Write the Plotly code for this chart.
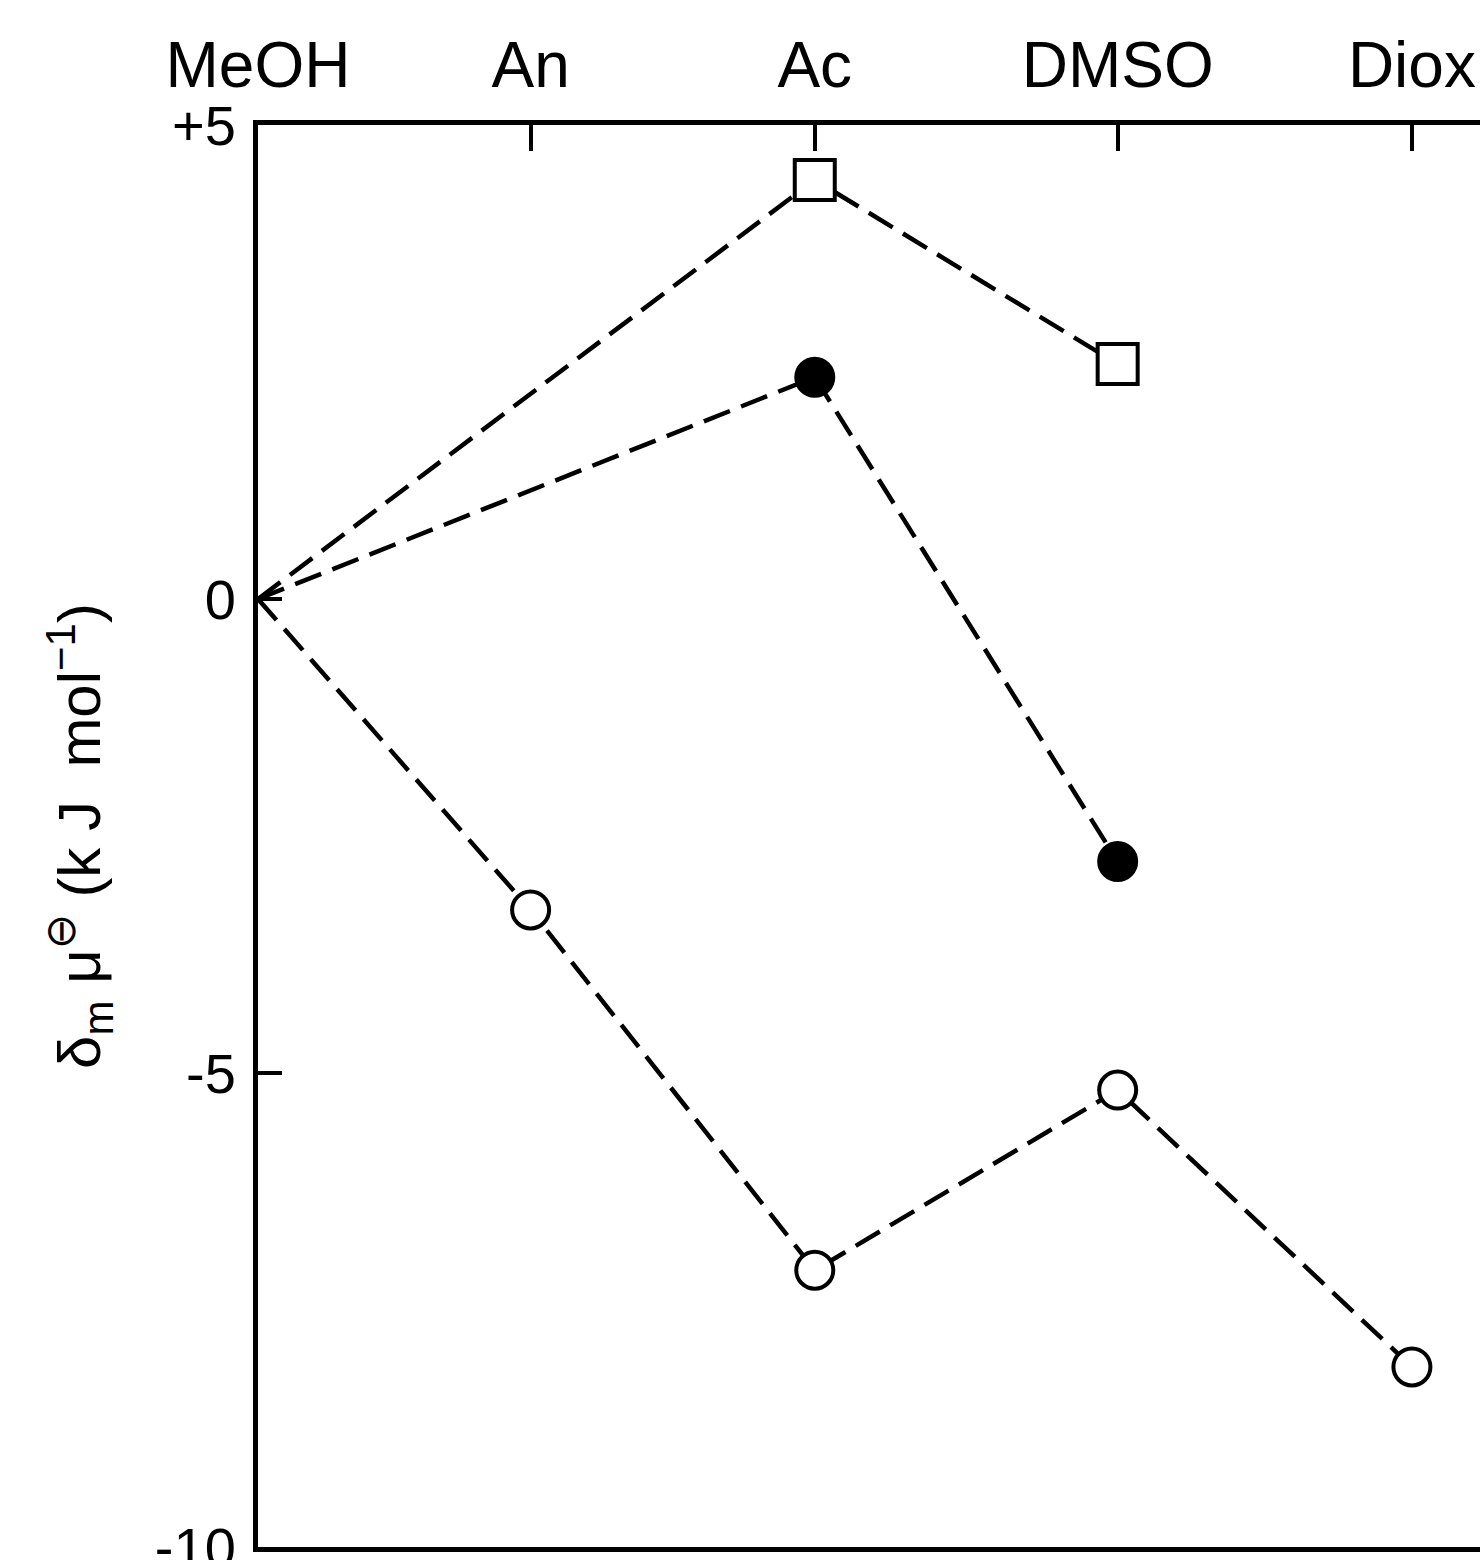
import plotly.graph_objects as go

solvents = ["MeOH", "An", "Ac", "DMSO", "Diox"]
solvent_positions = [0.0, 0.945, 1.93, 2.98, 4.0]

square_solvents = ["MeOH", "Ac", "DMSO"]
square_values = [0.0, 4.42, 2.48]

filled_solvents = ["MeOH", "Ac", "DMSO"]
filled_values = [0.0, 2.34, -2.77]

open_solvents = ["MeOH", "An", "Ac", "DMSO", "Diox"]
open_values = [0.0, -3.28, -7.08, -5.18, -8.10]

y_tickvals = [5, 0, -5, -10]
y_ticktext = ["+5", "0", "-5", "-10"]

FONT = "Liberation Sans"
DASH = "28px,12px"

pos = dict(zip(solvents, solvent_positions))

series = [
    (square_solvents, square_values, dict(symbol="square", size=40, color="white", line=dict(width=4, color="black"))),
    (filled_solvents, filled_values, dict(symbol="circle", size=38, color="black", line=dict(width=3, color="black"))),
    (open_solvents, open_values, dict(symbol="circle", size=37, color="white", line=dict(width=4, color="black"))),
]

fig = go.Figure()
for xs, ys, mk in series:
    fig.add_trace(go.Scatter(x=[pos[s] for s in xs], y=ys, mode="lines",
                             line=dict(color="black", width=4.5, dash=DASH),
                             hoverinfo="skip", showlegend=False))
for xs, ys, mk in series:
    fig.add_trace(go.Scatter(x=[pos[s] for s in xs[1:]], y=ys[1:], mode="markers",
                             marker=mk, showlegend=False))

fig.update_layout(
    width=1480, height=1560,
    margin=dict(l=258, r=0, t=125, b=13, autoexpand=False),
    paper_bgcolor="white", plot_bgcolor="white",
    font=dict(family=FONT, color="black", size=58),
)
fig.update_xaxes(
    range=[0, 4.236], side="top", automargin=False,
    tickvals=solvent_positions, ticktext=solvents,
    showline=True, linecolor="black", linewidth=5, mirror=True,
    ticks="inside", ticklen=26, tickwidth=4, tickcolor="black",
    showgrid=False, zeroline=False,
    tickfont=dict(family=FONT, size=64), ticklabelstandoff=7,
    ticklabeloverflow="allow",
)
fig.update_yaxes(
    range=[-10, 5], automargin=False,
    tickvals=y_tickvals, ticktext=y_ticktext,
    showline=True, linecolor="black", linewidth=5,
    ticks="inside", ticklen=24, tickwidth=4, tickcolor="black",
    showgrid=False, zeroline=False,
    tickfont=dict(family=FONT, size=56), ticklabelstandoff=6,
    ticklabeloverflow="allow",
    title=dict(text="δ<sub>m</sub> μ<sup>⊖</sup> (k J  mol<sup>−1</sup>)",
               font=dict(family=FONT, size=60), standoff=36),
)
fig.write_html("out.html")
